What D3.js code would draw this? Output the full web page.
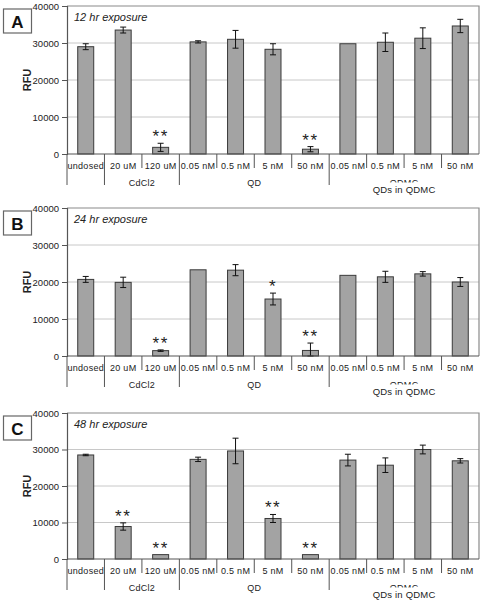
<!DOCTYPE html>
<html><head><meta charset="utf-8">
<script src="https://cdn.jsdelivr.net/npm/d3@7"></script>
<style>body{margin:0;background:#fff}svg{display:block}</style>
</head><body>
<script>
// ---- data ----
const categories = ["undosed","20 uM","120 uM","0.05 nM","0.5 nM","5 nM","50 nM","0.05 nM","0.5 nM","5 nM","50 nM"];
const groupLabels = ["", "CdCl2", "QD", "QDMC"];
const groupStart = [0, 1, 3, 7];
const groupEnd   = [0, 2, 6, 10];
const yTicks = [0, 10000, 20000, 30000, 40000];
const panelLetters = ["A", "B", "C"];
const panelTitles = ["12 hr exposure", "24 hr exposure", "48 hr exposure"];
const extraLabel = "QDs in QDMC";

const mean12 = [29000, 33500, 1800, 30300, 31000, 28300, 1300, 29800, 30200, 31300, 34600];
const err12  = [800,   800,   1100, 300,   2400,  1500,  700,  0,     2500,  2800,  1800];
const star12 = ["", "", "**", "", "", "", "**", "", "", "", ""];

const mean24 = [20700, 19900, 1450, 23300, 23200, 15400, 1500, 21800, 21400, 22200, 20000];
const err24  = [800,   1400,  200,  0,     1500,  1600,  2000, 0,     1500,  600,   1200];
const star24 = ["", "", "**", "", "", "*", "**", "", "", "", ""];

const mean48 = [28500, 8900, 1200, 27300, 29600, 11100, 1200, 27100, 25700, 30000, 26900];
const err48  = [200,   1000, 0,    600,   3500,  1100,  0,    1600,  2000,  1200,  600];
const star48 = ["", "**", "**", "", "", "**", "**", "", "", "", ""];

const panelMeans = [mean12, mean24, mean48];
const panelErrs  = [err12, err24, err48];
const panelStars = [star12, star24, star48];

// ---- layout ----
const W = 484, H = 602;
const panelTop  = [6, 208, 413];
const panelZero = [154, 356, 559];
const plotL = 67, plotR = 479;
const font = "'Liberation Sans', Arial, sans-serif";

const svg = d3.select("body").append("svg").attr("width", W).attr("height", H);
svg.append("rect").attr("width", W).attr("height", H).attr("fill", "#fff");

const x = d3.scaleBand().domain(d3.range(categories.length)).range([plotL, plotR])
  .paddingInner(0.573).paddingOuter(0.2865);
const step = x.step();
const edge = i => x(i) - step * 0.573 / 2;

panelLetters.forEach((letter, p) => {
  const top = panelTop[p], zero = panelZero[p];
  const y = d3.scaleLinear().domain([0, 40000]).range([zero, top]);
  const g = svg.append("g");
  const means = panelMeans[p], errs = panelErrs[p], stars = panelStars[p];

  // gridlines
  g.selectAll(".grid").data(yTicks.filter(t => t > 0 && t < 40000)).join("line")
    .attr("x1", plotL).attr("x2", plotR).attr("y1", d => y(d)).attr("y2", d => y(d))
    .attr("stroke", "#c8c8c8").attr("stroke-width", 1);

  // plot border (top, right)
  g.append("path").attr("d", `M${plotL},${y(40000)}H${plotR}V${zero}`)
    .attr("fill", "none").attr("stroke", "#8a8a8a").attr("stroke-width", 1.2);

  // y axis
  const yAxis = d3.axisLeft(y).tickValues(yTicks).tickSize(5).tickPadding(3).tickFormat(d3.format("d"));
  const ya = g.append("g").attr("transform", `translate(${plotL},0)`).call(yAxis);
  ya.select(".domain").attr("stroke", "#555").attr("stroke-width", 1.2);
  ya.selectAll(".tick line").attr("stroke", "#555");
  ya.selectAll("text").attr("font-family", font).attr("font-size", 9.5).attr("fill", "#222");

  // bars
  g.selectAll(".bar").data(means).join("rect")
    .attr("x", (d, i) => x(i)).attr("width", x.bandwidth())
    .attr("y", d => y(d)).attr("height", d => zero - y(d))
    .attr("fill", "#a3a3a3").attr("stroke", "#3a3a3a").attr("stroke-width", 1);

  // error bars
  means.forEach((m, i) => {
    const e = errs[i];
    if (e <= 0) return;
    const cx = x(i) + x.bandwidth() / 2;
    const y1 = y(m + e), y0 = y(Math.max(0, m - e));
    g.append("path").attr("d", `M${cx},${y1}V${y0}M${cx-3},${y1}H${cx+3}M${cx-3},${y0}H${cx+3}`)
      .attr("stroke", "#111").attr("stroke-width", 1).attr("fill", "none");
  });

  // significance stars
  stars.forEach((s, i) => {
    if (!s) return;
    const cx = x(i) + x.bandwidth() / 2;
    const cy = y(means[i] + errs[i]) - 11;
    g.append("text").attr("x", cx).attr("y", cy + 10).attr("text-anchor", "middle")
      .attr("font-family", font).attr("font-size", 17).attr("letter-spacing", 1.5)
      .attr("fill", "#222").text(s);
  });

  // x axis line
  g.append("line").attr("x1", plotL).attr("x2", plotR).attr("y1", zero).attr("y2", zero)
    .attr("stroke", "#555").attr("stroke-width", 1.2);

  // category dividers
  d3.range(1, categories.length).forEach(i => {
    const isGroup = groupStart.includes(i);
    g.append("line").attr("x1", edge(i)).attr("x2", edge(i))
      .attr("y1", zero).attr("y2", zero + (isGroup ? 31 : 14))
      .attr("stroke", "#555").attr("stroke-width", 1);
  });
  g.append("line").attr("x1", plotL).attr("x2", plotL).attr("y1", zero).attr("y2", zero + 31)
    .attr("stroke", "#555").attr("stroke-width", 1);

  // category labels
  g.selectAll(".cat").data(categories).join("text")
    .attr("x", (d, i) => x(i) + x.bandwidth() / 2).attr("y", zero + 14.5)
    .attr("text-anchor", "middle").attr("font-family", font).attr("font-size", 9)
    .attr("letter-spacing", 0.3).attr("fill", "#222").text(d => d);

  // group labels (the last one is half hidden under the extra label, as in the source)
  const qx = (edge(groupStart[3]) + plotR) / 2;
  const clipId = "qclip" + p;
  g.append("clipPath").attr("id", clipId).append("rect")
    .attr("x", plotL).attr("y", zero + 15).attr("width", plotR - plotL).attr("height", 13.5);
  groupLabels.forEach((lab, k) => {
    if (!lab) return;
    const cx = (edge(groupStart[k]) + (groupEnd[k] + 1 < categories.length ? edge(groupEnd[k] + 1) : plotR)) / 2;
    const t = g.append("text").attr("x", cx).attr("y", zero + 31.5).attr("text-anchor", "middle")
      .attr("font-family", font).attr("font-size", 9).attr("letter-spacing", 0.3)
      .attr("fill", "#222").text(lab);
    if (k === 3) t.attr("clip-path", `url(#${clipId})`);
  });
  g.append("text").attr("x", qx).attr("y", zero + 39).attr("text-anchor", "middle")
    .attr("font-family", font).attr("font-size", 9.5).attr("letter-spacing", 0.2)
    .attr("fill", "#222").text(extraLabel);

  // RFU label
  g.append("text").attr("transform", `translate(31,${(top + zero) / 2}) rotate(-90)`)
    .attr("text-anchor", "middle").attr("font-family", font).attr("font-size", 11)
    .attr("font-weight", "bold").attr("fill", "#222").text("RFU");

  // panel title
  g.append("text").attr("x", 74).attr("y", top + 14.5).attr("font-family", font)
    .attr("font-size", 11).attr("font-style", "italic").attr("fill", "#222").text(panelTitles[p]);

  // letter box
  g.append("rect").attr("x", 3.5).attr("y", top + 3).attr("width", 28).attr("height", 24)
    .attr("fill", "#fff").attr("stroke", "#666").attr("stroke-width", 1.2);
  g.append("text").attr("x", 17.5).attr("y", top + 21.5).attr("text-anchor", "middle")
    .attr("font-family", font).attr("font-size", 17).attr("font-weight", "bold")
    .attr("fill", "#111").text(letter);
});
</script>
</body></html>
